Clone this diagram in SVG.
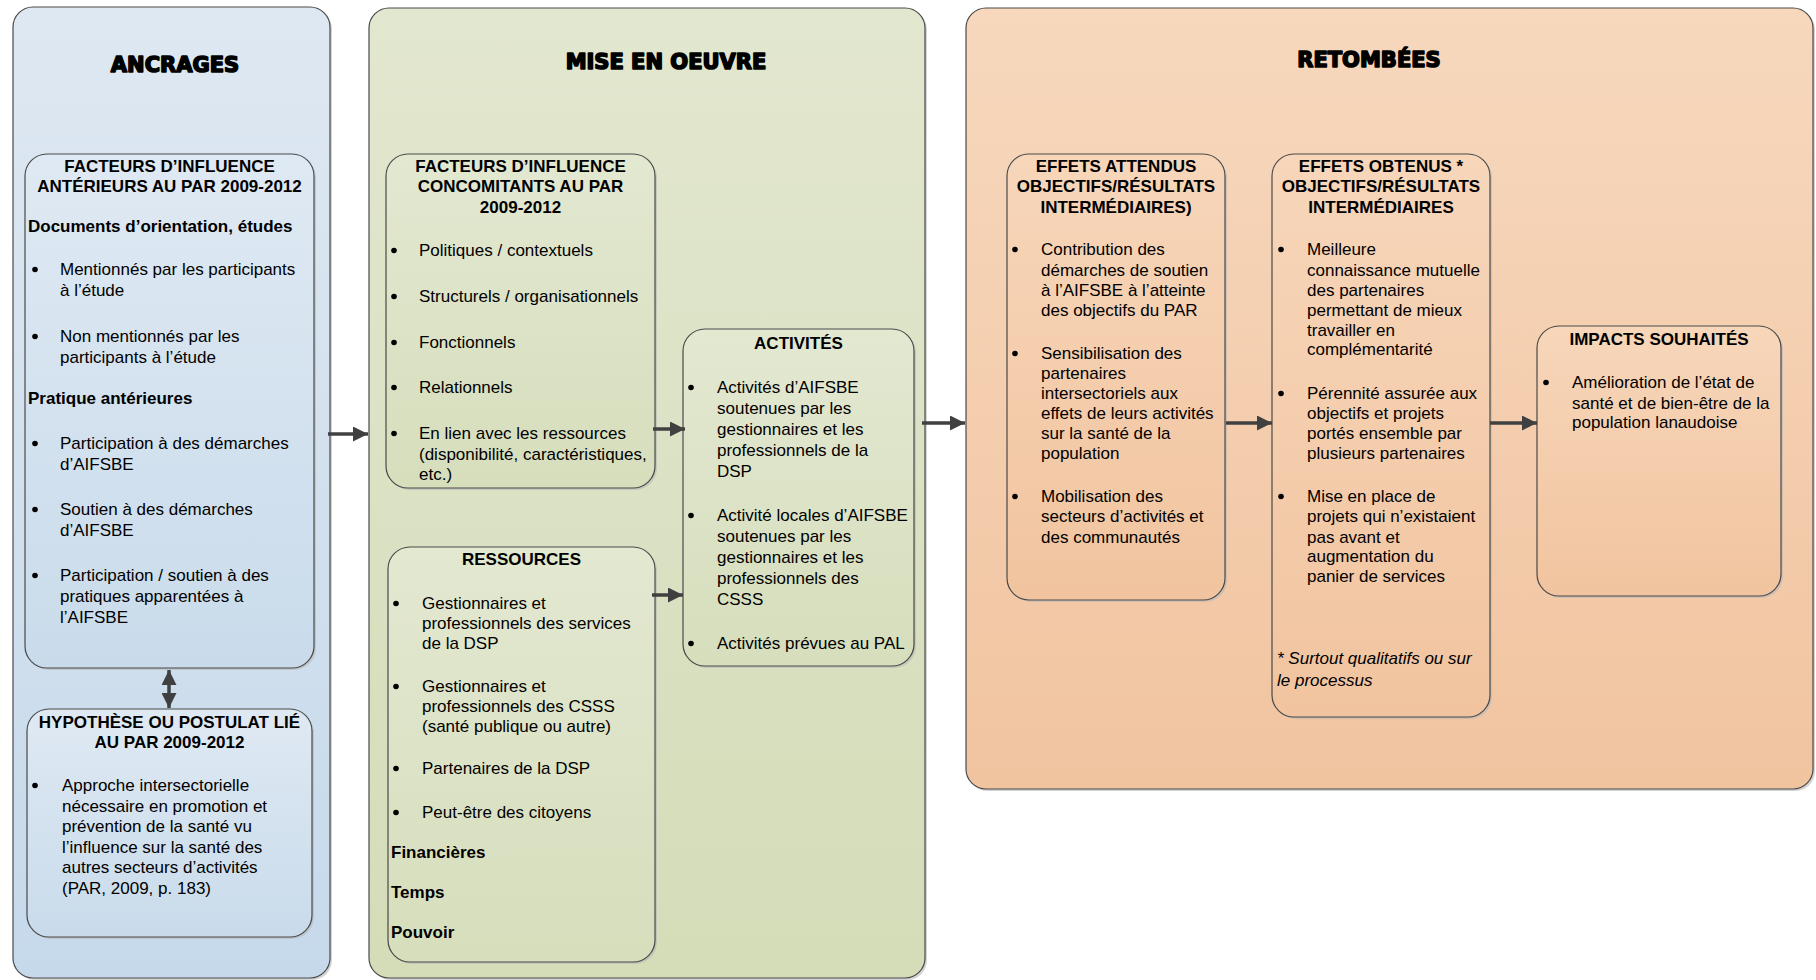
<svg xmlns="http://www.w3.org/2000/svg" width="1816" height="980" viewBox="0 0 1816 980">
<defs>
<linearGradient id="gB" x1="0" y1="0" x2="0" y2="1"><stop offset="0" stop-color="#DEE8F2"/><stop offset="1" stop-color="#C6D9EB"/></linearGradient>
<linearGradient id="gBi" x1="0" y1="0" x2="0" y2="1"><stop offset="0" stop-color="#DFE9F3"/><stop offset="1" stop-color="#C9DBEB"/></linearGradient>
<linearGradient id="gG" x1="0" y1="0" x2="0" y2="1"><stop offset="0" stop-color="#E2E7CF"/><stop offset="1" stop-color="#D4DCB8"/></linearGradient>
<linearGradient id="gGi" x1="0" y1="0" x2="0" y2="1"><stop offset="0" stop-color="#E3E8D1"/><stop offset="1" stop-color="#D6DEBC"/></linearGradient>
<linearGradient id="gO" x1="0" y1="0" x2="0" y2="1"><stop offset="0" stop-color="#F7D8BD"/><stop offset="1" stop-color="#F1C4A0"/></linearGradient>
<linearGradient id="gOi" x1="0" y1="0" x2="0" y2="1"><stop offset="0" stop-color="#F7D6BA"/><stop offset="1" stop-color="#F1C49F"/></linearGradient>
<marker id="ah" viewBox="0 0 14 14" refX="14" refY="7" markerWidth="15" markerHeight="15" markerUnits="userSpaceOnUse" orient="auto-start-reverse"><path d="M0,0 L14,7 L0,14 z" fill="#404040"/></marker>
</defs>
<style>
.pan{stroke:#4a4a4a;stroke-width:1.2}
.box{stroke:#4a4a4a;stroke-width:1.2}
.sh{fill:#b8b8b8;opacity:0.6}
.t{font-family:"Liberation Sans",Arial,sans-serif;font-size:17px;fill:#000}
.b{font-weight:bold}
.i{font-style:italic}
.c{text-anchor:middle}
.h{font-family:"DejaVu Sans",sans-serif;font-weight:bold;font-size:21px;fill:#000;stroke:#000;stroke-width:1.6;stroke-linejoin:round;text-anchor:middle}
.d{fill:#000}
.ar{stroke:#404040;stroke-width:3.5;fill:none;marker-end:url(#ah)}
</style>
<rect width="1816" height="980" fill="#ffffff"/>

<g id="panel-ancrages">
<rect class="sh" x="15" y="9" width="317" height="971" rx="20"/>
<rect class="pan" x="13" y="7" width="317" height="971" rx="20" fill="url(#gB)"/>
<text class="h" x="175" y="72">ANCRAGES</text>
</g>

<g id="panel-mise">
<rect class="sh" x="371" y="10" width="556" height="970" rx="20"/>
<rect class="pan" x="369" y="8" width="556" height="970" rx="20" fill="url(#gG)"/>
<text class="h" x="666" y="69">MISE EN OEUVRE</text>
</g>

<g id="panel-retombees">
<rect class="sh" x="968" y="10" width="847" height="781" rx="20"/>
<rect class="pan" x="966" y="8" width="847" height="781" rx="20" fill="url(#gO)"/>
<text class="h" x="1369" y="67">RETOMBÉES</text>
</g>

<g id="facteurs-anterieurs">
<rect class="sh" x="27" y="156" width="289" height="514" rx="22"/>
<rect class="box" x="25" y="154" width="289" height="514" rx="22" fill="url(#gBi)"/>
<text class="t b c" x="169.5" y="172">FACTEURS D’INFLUENCE</text>
<text class="t b c" x="169.5" y="192">ANTÉRIEURS AU PAR 2009-2012</text>
<text class="t b" x="28" y="232">Documents d’orientation, études</text>
<circle class="d" cx="35" cy="269.5" r="2.8"/>
<text class="t" x="60" y="275">Mentionnés par les participants</text>
<text class="t" x="60" y="296">à l’étude</text>
<circle class="d" cx="35" cy="336.5" r="2.8"/>
<text class="t" x="60" y="342">Non mentionnés par les</text>
<text class="t" x="60" y="363">participants à l’étude</text>
<text class="t b" x="28" y="404">Pratique antérieures</text>
<circle class="d" cx="35" cy="443.5" r="2.8"/>
<text class="t" x="60" y="449">Participation à des démarches</text>
<text class="t" x="60" y="470">d’AIFSBE</text>
<circle class="d" cx="35" cy="509.5" r="2.8"/>
<text class="t" x="60" y="515">Soutien à des démarches</text>
<text class="t" x="60" y="536">d’AIFSBE</text>
<circle class="d" cx="35" cy="575.5" r="2.8"/>
<text class="t" x="60" y="581">Participation / soutien à des</text>
<text class="t" x="60" y="602">pratiques apparentées à</text>
<text class="t" x="60" y="623">l’AIFSBE</text>
</g>

<g id="hypothese">
<rect class="sh" x="29" y="711" width="285" height="228" rx="22"/>
<rect class="box" x="27" y="709" width="285" height="228" rx="22" fill="url(#gBi)"/>
<text class="t b c" x="169.5" y="728">HYPOTHÈSE OU POSTULAT LIÉ</text>
<text class="t b c" x="169.5" y="748">AU PAR 2009-2012</text>
<circle class="d" cx="35" cy="785.5" r="2.8"/>
<text class="t" x="62" y="791">Approche intersectorielle</text>
<text class="t" x="62" y="812">nécessaire en promotion et</text>
<text class="t" x="62" y="832">prévention de la santé vu</text>
<text class="t" x="62" y="853">l’influence sur la santé des</text>
<text class="t" x="62" y="873">autres secteurs d’activités</text>
<text class="t" x="62" y="894">(PAR, 2009, p. 183)</text>
</g>

<g id="facteurs-concomitants">
<rect class="sh" x="388" y="156" width="269" height="334" rx="22"/>
<rect class="box" x="386" y="154" width="269" height="334" rx="22" fill="url(#gGi)"/>
<text class="t b c" x="520.5" y="172">FACTEURS D’INFLUENCE</text>
<text class="t b c" x="520.5" y="192">CONCOMITANTS AU PAR</text>
<text class="t b c" x="520.5" y="213">2009-2012</text>
<circle class="d" cx="394" cy="250.5" r="2.8"/>
<text class="t" x="419" y="256">Politiques / contextuels</text>
<circle class="d" cx="394" cy="296.5" r="2.8"/>
<text class="t" x="419" y="302">Structurels / organisationnels</text>
<circle class="d" cx="394" cy="342.5" r="2.8"/>
<text class="t" x="419" y="348">Fonctionnels</text>
<circle class="d" cx="394" cy="387.5" r="2.8"/>
<text class="t" x="419" y="393">Relationnels</text>
<circle class="d" cx="394" cy="433.5" r="2.8"/>
<text class="t" x="419" y="439">En lien avec les ressources</text>
<text class="t" x="419" y="460">(disponibilité, caractéristiques,</text>
<text class="t" x="419" y="480">etc.)</text>
</g>

<g id="ressources">
<rect class="sh" x="390" y="549" width="267" height="415" rx="22"/>
<rect class="box" x="388" y="547" width="267" height="415" rx="22" fill="url(#gGi)"/>
<text class="t b c" x="521.5" y="565">RESSOURCES</text>
<circle class="d" cx="396" cy="603.5" r="2.8"/>
<text class="t" x="422" y="609">Gestionnaires et</text>
<text class="t" x="422" y="629">professionnels des services</text>
<text class="t" x="422" y="649">de la DSP</text>
<circle class="d" cx="396" cy="686.5" r="2.8"/>
<text class="t" x="422" y="692">Gestionnaires et</text>
<text class="t" x="422" y="712">professionnels des CSSS</text>
<text class="t" x="422" y="732">(santé publique ou autre)</text>
<circle class="d" cx="396" cy="768.5" r="2.8"/>
<text class="t" x="422" y="774">Partenaires de la DSP</text>
<circle class="d" cx="396" cy="812.5" r="2.8"/>
<text class="t" x="422" y="818">Peut-être des citoyens</text>
<text class="t b" x="391" y="858">Financières</text>
<text class="t b" x="391" y="898">Temps</text>
<text class="t b" x="391" y="938">Pouvoir</text>
</g>

<g id="activites">
<rect class="sh" x="685" y="331" width="231" height="337" rx="22"/>
<rect class="box" x="683" y="329" width="231" height="337" rx="22" fill="url(#gGi)"/>
<text class="t b c" x="798.5" y="349">ACTIVITÉS</text>
<circle class="d" cx="691" cy="387.5" r="2.8"/>
<text class="t" x="717" y="393">Activités d’AIFSBE</text>
<text class="t" x="717" y="414">soutenues par les</text>
<text class="t" x="717" y="435">gestionnaires et les</text>
<text class="t" x="717" y="456">professionnels de la</text>
<text class="t" x="717" y="477">DSP</text>
<circle class="d" cx="691" cy="515.5" r="2.8"/>
<text class="t" x="717" y="521">Activité locales d’AIFSBE</text>
<text class="t" x="717" y="542">soutenues par les</text>
<text class="t" x="717" y="563">gestionnaires et les</text>
<text class="t" x="717" y="584">professionnels des</text>
<text class="t" x="717" y="605">CSSS</text>
<circle class="d" cx="691" cy="643.5" r="2.8"/>
<text class="t" x="717" y="649">Activités prévues au PAL</text>
</g>

<g id="effets-attendus">
<rect class="sh" x="1009" y="156" width="218" height="446" rx="22"/>
<rect class="box" x="1007" y="154" width="218" height="446" rx="22" fill="url(#gOi)"/>
<text class="t b c" x="1116" y="172">EFFETS ATTENDUS</text>
<text class="t b c" x="1116" y="192">OBJECTIFS/RÉSULTATS</text>
<text class="t b c" x="1116" y="213">INTERMÉDIAIRES)</text>
<circle class="d" cx="1015" cy="249.5" r="2.8"/>
<text class="t" x="1041" y="255">Contribution des</text>
<text class="t" x="1041" y="276">démarches de soutien</text>
<text class="t" x="1041" y="296">à l’AIFSBE à l’atteinte</text>
<text class="t" x="1041" y="316">des objectifs du PAR</text>
<circle class="d" cx="1015" cy="353.5" r="2.8"/>
<text class="t" x="1041" y="359">Sensibilisation des</text>
<text class="t" x="1041" y="379">partenaires</text>
<text class="t" x="1041" y="399">intersectoriels aux</text>
<text class="t" x="1041" y="419">effets de leurs activités</text>
<text class="t" x="1041" y="439">sur la santé de la</text>
<text class="t" x="1041" y="459">population</text>
<circle class="d" cx="1015" cy="496.5" r="2.8"/>
<text class="t" x="1041" y="502">Mobilisation des</text>
<text class="t" x="1041" y="522">secteurs d’activités et</text>
<text class="t" x="1041" y="543">des communautés</text>
</g>

<g id="effets-obtenus">
<rect class="sh" x="1274" y="156" width="218" height="563" rx="22"/>
<rect class="box" x="1272" y="154" width="218" height="563" rx="22" fill="url(#gOi)"/>
<text class="t b c" x="1381" y="172">EFFETS OBTENUS *</text>
<text class="t b c" x="1381" y="192">OBJECTIFS/RÉSULTATS</text>
<text class="t b c" x="1381" y="213">INTERMÉDIAIRES</text>
<circle class="d" cx="1281" cy="249.5" r="2.8"/>
<text class="t" x="1307" y="255">Meilleure</text>
<text class="t" x="1307" y="276">connaissance mutuelle</text>
<text class="t" x="1307" y="296">des partenaires</text>
<text class="t" x="1307" y="316">permettant de mieux</text>
<text class="t" x="1307" y="336">travailler en</text>
<text class="t" x="1307" y="355">complémentarité</text>
<circle class="d" cx="1281" cy="393.5" r="2.8"/>
<text class="t" x="1307" y="399">Pérennité assurée aux</text>
<text class="t" x="1307" y="419">objectifs et projets</text>
<text class="t" x="1307" y="439">portés ensemble par</text>
<text class="t" x="1307" y="459">plusieurs partenaires</text>
<circle class="d" cx="1281" cy="496.5" r="2.8"/>
<text class="t" x="1307" y="502">Mise en place de</text>
<text class="t" x="1307" y="522">projets qui n’existaient</text>
<text class="t" x="1307" y="543">pas avant et</text>
<text class="t" x="1307" y="562">augmentation du</text>
<text class="t" x="1307" y="582">panier de services</text>
<text class="t i" x="1277" y="664">* Surtout qualitatifs ou sur</text>
<text class="t i" x="1277" y="686">le processus</text>
</g>

<g id="impacts">
<rect class="sh" x="1539" y="328" width="244" height="270" rx="22"/>
<rect class="box" x="1537" y="326" width="244" height="270" rx="22" fill="url(#gOi)"/>
<text class="t b c" x="1659" y="345">IMPACTS SOUHAITÉS</text>
<circle class="d" cx="1546" cy="382.5" r="2.8"/>
<text class="t" x="1572" y="388">Amélioration de l’état de</text>
<text class="t" x="1572" y="409">santé et de bien-être de la</text>
<text class="t" x="1572" y="428">population lanaudoise</text>
</g>

<g id="connectors">
<line class="ar" x1="328" y1="434" x2="368" y2="434"/>
<line class="ar" x1="653" y1="429" x2="685" y2="429"/>
<line class="ar" x1="652" y1="595" x2="683" y2="595"/>
<line class="ar" x1="922" y1="423" x2="965" y2="423"/>
<line class="ar" x1="1226" y1="423" x2="1272" y2="423"/>
<line class="ar" x1="1490" y1="423" x2="1537" y2="423"/>
<line class="ar" x1="169" y1="670" x2="169" y2="708" style="marker-start:url(#ah)"/>
</g>
</svg>
